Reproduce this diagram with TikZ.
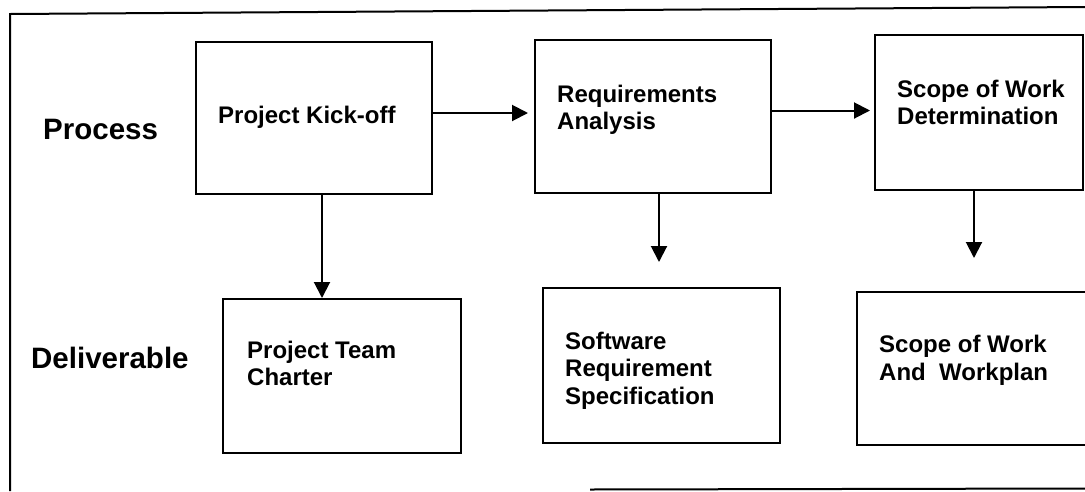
\documentclass[tikz,border=0pt]{standalone}
\usepackage{fontspec}
\setmainfont{Liberation Sans}
\usetikzlibrary{arrows.meta}
\tikzset{
  box/.style={draw=black, line width=2pt, rectangle, inner sep=0pt, outer sep=0pt, anchor=north west},
  boxtext/.style={anchor=base west, inner sep=0pt, font=\fontsize{24}{27}\selectfont\bfseries},
  rowlabel/.style={anchor=base west, inner sep=0pt, font=\fontsize{29.5}{33}\selectfont\bfseries},
  arr/.style={line width=2pt, -{Triangle[length=16pt,width=16pt]}},
  frame/.style={line width=2pt}
}
\begin{document}
\begin{tikzpicture}[x=1pt,y=-1pt]
\useasboundingbox (0,0) rectangle (1085,491);
% outer frame (partially visible)
\draw[frame] (10,491) -- (10,14) -- (1085,7);
\draw[frame] (590,489.5) -- (1085,488.5);
% row labels
\node[rowlabel] (lproc) at (43,139) {Process};
\node[rowlabel] (ldel) at (31,368) {Deliverable};
% process boxes
\node[box, minimum width=236pt, minimum height=152pt] (b1) at (196,42) {};
\node[box, minimum width=236pt, minimum height=153pt] (b2) at (535,40) {};
\node[box, minimum width=208pt, minimum height=155pt] (b3) at (875,35) {};
% deliverable boxes
\node[box, minimum width=238pt, minimum height=154pt] (b4) at (223,299) {};
\node[box, minimum width=237pt, minimum height=155pt] (b5) at (543,288) {};
\node[box, minimum width=232pt, minimum height=153pt] (b6) at (857,292) {};
% texts
\node[boxtext] (t1) at (218,123) {Project Kick-off};
\node[boxtext] (t2a) at (557,102) {Requirements};
\node[boxtext] (t2b) at (557,129) {Analysis};
\node[boxtext] (t3a) at (897,97) {Scope of Work};
\node[boxtext] (t3b) at (897,124) {Determination};
\node[boxtext] (t4a) at (247,358) {Project Team};
\node[boxtext] (t4b) at (247,385) {Charter};
\node[boxtext] (t5a) at (565,349) {Software};
\node[boxtext] (t5b) at (565,376) {Requirement};
\node[boxtext] (t5c) at (565,404) {Specification};
\node[boxtext] (t6a) at (879,352) {Scope of Work};
\node[boxtext] (t6b) at (879,380) {And\ \ Workplan};
% connectors
\draw[arr, shorten >=7pt] ([yshift=5pt]b1.east) -- ([yshift=5pt]b1.east -| b2.west);
\draw[arr, shorten >=5pt] ([yshift=6pt]b2.east) -- ([yshift=6pt]b2.east -| b3.west);
\draw[arr, shorten >=1pt] ([xshift=8pt]b1.south) -- ([xshift=8pt]b1.south |- b4.north);
\draw[arr, shorten >=26pt] ([xshift=6pt]b2.south) -- ([xshift=6pt]b2.south |- b5.north);
\draw[arr, shorten >=34pt] ([xshift=-5pt]b3.south) -- ([xshift=-5pt]b3.south |- b6.north);
\end{tikzpicture}
\end{document}
